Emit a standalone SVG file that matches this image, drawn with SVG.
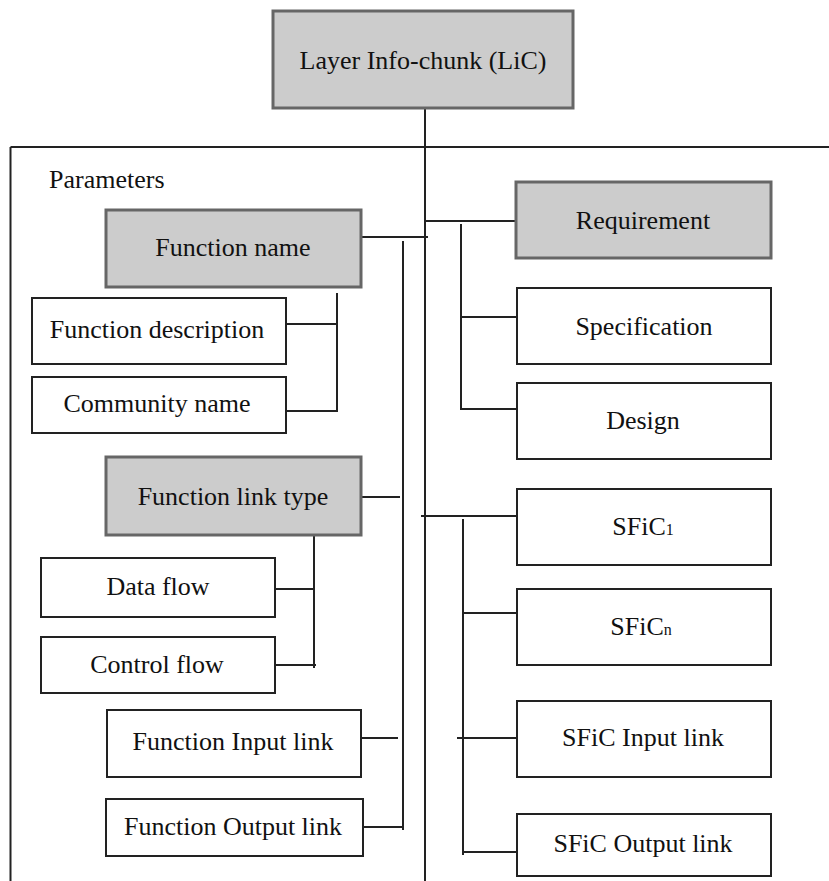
<svg xmlns="http://www.w3.org/2000/svg" width="829" height="881" viewBox="0 0 829 881">
<style>
text{font-family:"Liberation Serif","Times New Roman",serif;font-size:26px;fill:#111;text-anchor:middle}
.g{fill:#cccccc;stroke:#666;stroke-width:3}
.w{fill:#fff;stroke:#222;stroke-width:2}
.c{stroke:#222;stroke-width:2;fill:none}
</style>
<rect width="829" height="881" fill="#fff"/>
<g id="connectors">
<path class="c" d="M425 108V881 M10.5 147H829 M10.5 147V881"/>
<path class="c" d="M425 221H516 M361 237H428 M403 241V830 M363 827H403 M361 738H398 M361 497H400"/>
<path class="c" d="M461 224V409H517 M461 317H517"/>
<path class="c" d="M337 293V411H286 M286 324H337"/>
<path class="c" d="M314 535V668 M275 589H314 M275 665H316"/>
<path class="c" d="M421 516H517 M463 519V855 M463 613H517 M457 738H517 M463 852H517"/>
</g>
<g id="lic"><rect class="g" x="273" y="11" width="300" height="97"/><text x="423" y="69">Layer Info-chunk (LiC)</text></g>
<g id="parameters"><text x="49" y="188" style="text-anchor:start">Parameters</text></g>
<g id="requirement"><rect class="g" x="516" y="182" width="255" height="76"/><text x="643" y="229">Requirement</text></g>
<g id="function-name"><rect class="g" x="106" y="210" width="255" height="77"/><text x="233" y="256">Function name</text></g>
<g id="function-description"><rect class="w" x="32" y="298" width="254" height="66"/><text x="157" y="338">Function description</text></g>
<g id="community-name"><rect class="w" x="32" y="377" width="254" height="56"/><text x="157" y="412">Community name</text></g>
<g id="specification"><rect class="w" x="517" y="288" width="254" height="76"/><text x="644" y="335">Specification</text></g>
<g id="design"><rect class="w" x="517" y="383" width="254" height="76"/><text x="643" y="429">Design</text></g>
<g id="function-link-type"><rect class="g" x="106" y="457" width="255" height="78"/><text x="233" y="505">Function link type</text></g>
<g id="sfic1"><rect class="w" x="517" y="489" width="254" height="76"/><text x="643" y="535">SFiC<tspan font-size="16">1</tspan></text></g>
<g id="data-flow"><rect class="w" x="41" y="558" width="234" height="59"/><text x="158" y="595">Data flow</text></g>
<g id="sficn"><rect class="w" x="517" y="589" width="254" height="76"/><text x="641" y="635">SFiC<tspan font-size="16">n</tspan></text></g>
<g id="control-flow"><rect class="w" x="41" y="637" width="234" height="56"/><text x="157" y="673">Control flow</text></g>
<g id="function-input-link"><rect class="w" x="107" y="710" width="254" height="67"/><text x="233" y="750">Function Input link</text></g>
<g id="sfic-input-link"><rect class="w" x="517" y="701" width="254" height="76"/><text x="643" y="746">SFiC Input link</text></g>
<g id="function-output-link"><rect class="w" x="106" y="799" width="257" height="57"/><text x="233" y="835">Function Output link</text></g>
<g id="sfic-output-link"><rect class="w" x="517" y="814" width="254" height="62"/><text x="643" y="852">SFiC Output link</text></g>
</svg>
